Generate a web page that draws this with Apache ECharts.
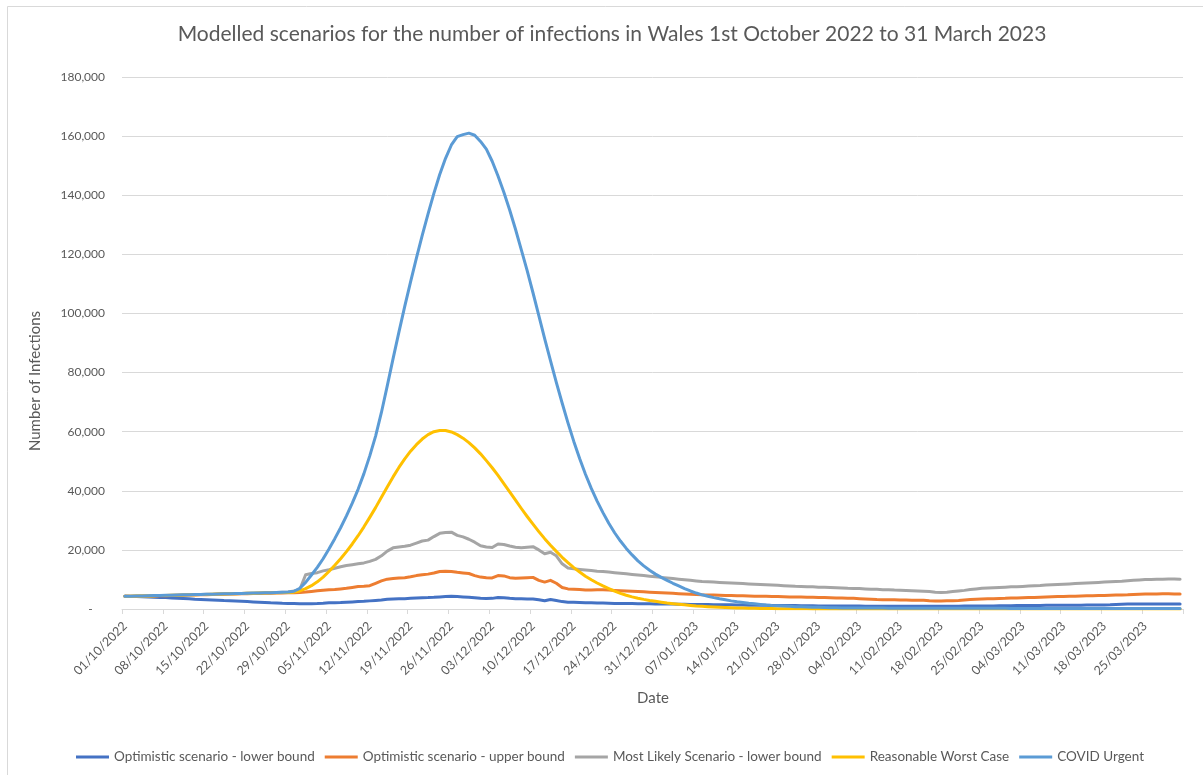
<!DOCTYPE html>
<html>
<head>
<meta charset="utf-8">
<title>Modelled scenarios for the number of infections in Wales</title>
<script src="https://cdn.jsdelivr.net/npm/echarts@6/dist/echarts.min.js"></script>
<style>
  html, body { margin: 0; padding: 0; background: #ffffff; }
  #chart { width: 1203px; height: 775px; }
</style>
</head>
<body>
<div id="chart"></div>
<script>
// Daily modelled infections, 01/10/2022 to 31/03/2023 (182 days)
const START_DATE = Date.UTC(2022, 9, 1);
const DAY_COUNT = 182;

const seriesNames = [
  'Optimistic scenario - lower bound',
  'Optimistic scenario - upper bound',
  'Most Likely Scenario - lower bound',
  'Reasonable Worst Case',
  'COVID Urgent'
];

const optimisticLower = [
  4300, 4250, 4200, 4150, 4050, 4000, 3900, 3850, 3750, 3650,
  3550, 3450, 3300, 3250, 3150, 3050, 2950, 2850, 2800, 2700,
  2600, 2500, 2400, 2300, 2200, 2100, 2050, 1950, 1900, 1850,
  1800, 1800, 1800, 1850, 1950, 2100, 2150, 2200, 2300, 2400,
  2500, 2600, 2750, 2900, 3050, 3300, 3400, 3450, 3500, 3600,
  3700, 3800, 3850, 3950, 4100, 4200, 4300, 4200, 4100, 4000,
  3800, 3600, 3550, 3600, 3900, 3800, 3600, 3500, 3450, 3400,
  3400, 3100, 2800, 3200, 2900, 2500, 2300, 2250, 2200, 2150,
  2100, 2000, 2000, 1950, 1900, 1900, 1850, 1850, 1800, 1800,
  1750, 1700, 1700, 1650, 1650, 1600, 1600, 1550, 1550, 1500,
  1500, 1450, 1450, 1400, 1400, 1350, 1350, 1300, 1300, 1250,
  1250, 1200, 1200, 1200, 1150, 1150, 1100, 1100, 1100, 1050,
  1050, 1050, 1000, 1000, 1000, 1000, 1000, 950, 950, 950,
  950, 950, 950, 900, 900, 900, 900, 900, 900, 900,
  900, 950, 950, 950, 1000, 1000, 1000, 1050, 1050, 1050,
  1100, 1100, 1100, 1150, 1150, 1200, 1200, 1200, 1250, 1250,
  1250, 1300, 1300, 1300, 1300, 1350, 1350, 1350, 1350, 1400,
  1500, 1600, 1650, 1650, 1650, 1650, 1650, 1650, 1650, 1650,
  1650, 1650
];

const optimisticUpper = [
  4300, 4310, 4340, 4370, 4400, 4440, 4480, 4520, 4560, 4600,
  4650, 4700, 4750, 4800, 4850, 4900, 4950, 5000, 5050, 5100,
  5140, 5180, 5220, 5260, 5300, 5340, 5380, 5420, 5460, 5500,
  5600, 5750, 5950, 6150, 6350, 6500, 6600, 6800, 7000, 7300,
  7600, 7700, 7900, 8700, 9500, 10100, 10300, 10500, 10600, 10900,
  11300, 11600, 11800, 12200, 12700, 12800, 12700, 12400, 12200, 12000,
  11300, 10800, 10600, 10500, 11300, 11200, 10600, 10400, 10500, 10600,
  10700, 9700, 9100, 9700, 8700, 7300, 6800, 6700, 6600, 6400,
  6400, 6500, 6500, 6400, 6300, 6200, 6100, 6000, 5900, 5800,
  5700, 5600, 5500, 5400, 5300, 5200, 5100, 5000, 4900, 4800,
  4750, 4700, 4650, 4600, 4550, 4500, 4450, 4400, 4350, 4300,
  4300, 4250, 4200, 4150, 4100, 4100, 4050, 4000, 3950, 3900,
  3850, 3800, 3750, 3700, 3650, 3600, 3500, 3400, 3300, 3200,
  3150, 3100, 3100, 3050, 3050, 3000, 3000, 2950, 2800, 2700,
  2700, 2750, 2800, 2900, 3050, 3200, 3300, 3400, 3450, 3500,
  3550, 3600, 3700, 3750, 3800, 3850, 3900, 4000, 4100, 4150,
  4200, 4250, 4300, 4350, 4400, 4450, 4500, 4550, 4600, 4650,
  4700, 4750, 4800, 4900, 5000, 5050, 5100, 5100, 5150, 5150,
  5100, 5100
];

const mostLikelyLower = [
  4300, 4330, 4380, 4420, 4460, 4510, 4560, 4610, 4660, 4710,
  4770, 4820, 4870, 4920, 4970, 5020, 5070, 5120, 5170, 5220,
  5270, 5320, 5370, 5420, 5470, 5530, 5600, 5680, 5780, 6100,
  6600, 11600, 12000, 12300, 12900, 13300, 13800, 14300, 14700, 15000,
  15300, 15600, 16100, 16800, 18000, 19600, 20700, 21000, 21200, 21600,
  22300, 23000, 23300, 24500, 25600, 25900, 26000, 24900, 24400, 23600,
  22600, 21400, 21000, 20800, 22000, 21800, 21300, 20900, 20700, 20900,
  21100, 20000, 18700, 19200, 18000, 15300, 13900, 13600, 13400, 13200,
  13000, 12800, 12700, 12500, 12300, 12100, 11900, 11700, 11500, 11300,
  11100, 10900, 10700, 10500, 10300, 10100, 9900, 9700, 9500, 9300,
  9200, 9100, 9000, 8900, 8800, 8700, 8600, 8500, 8400, 8300,
  8200, 8100, 8000, 7900, 7800, 7700, 7650, 7550, 7500, 7400,
  7350, 7300, 7200, 7100, 7000, 6950, 6900, 6800, 6700, 6650,
  6550, 6500, 6400, 6350, 6300, 6200, 6100, 6000, 5900, 5700,
  5600, 5700, 5900, 6100, 6300, 6600, 6800, 7000, 7100, 7200,
  7300, 7400, 7500, 7550, 7650, 7750, 7850, 7950, 8100, 8200,
  8300, 8400, 8500, 8600, 8700, 8800, 8900, 9000, 9100, 9200,
  9300, 9400, 9550, 9700, 9850, 9950, 10000, 10050, 10100, 10150,
  10150, 10100
];

const reasonableWorst = [
  4300, 4320, 4360, 4400, 4440, 4490, 4540, 4590, 4640, 4690,
  4740, 4790, 4840, 4890, 4940, 4990, 5040, 5090, 5140, 5190,
  5240, 5290, 5340, 5390, 5440, 5480, 5520, 5560, 5600, 5700,
  6100, 6900, 7900, 9200, 10800, 12700, 14800, 17000, 19400, 22000,
  24800, 27800, 31000, 34300, 37800, 41300, 44700, 47900, 50800, 53400,
  55600, 57500, 59000, 60000, 60400, 60400, 59900, 59000, 57800, 56300,
  54500, 52500, 50200, 47800, 45200, 42400, 39600, 36800, 34000, 31300,
  28700, 26200, 23800, 21600, 19500, 17500, 15700, 14000, 12500, 11100,
  9900, 8800, 7800, 6900, 6050, 5300, 4650, 4100, 3650, 3250,
  2900, 2600, 2300, 2000, 1800, 1600, 1400, 1200, 1000, 900,
  800, 700, 600, 520, 450, 380, 330, 280, 240, 200,
  170, 140, 120, 100, 80, 70, 60, 50, 40, 30,
  25, 20, 18, 15, 12, 10, 9, 8, 7, 6,
  5, 5, 5, 5, 4, 4, 4, 4, 4, 3,
  3, 3, 3, 3, 3, 3, 3, 2, 2, 2,
  2, 2, 2, 2, 2, 2, 2, 2, 2, 2,
  2, 2, 2, 2, 2, 2, 2, 2, 2, 2,
  2, 2, 2, 2, 2, 2, 2, 2, 2, 2,
  2, 2
];

const covidUrgent = [
  4300, 4340, 4390, 4420, 4470, 4530, 4570, 4620, 4680, 4720,
  4780, 4830, 4880, 4930, 4980, 5030, 5080, 5130, 5180, 5230,
  5280, 5330, 5380, 5430, 5480, 5530, 5590, 5660, 5750, 6000,
  7000, 9000, 11500, 14100, 17000, 20300, 23800, 27500, 31500, 35800,
  40500, 45800, 51800, 58500, 66500, 75500, 84700, 93700, 102400, 110700,
  118700, 126400, 133700, 140600, 147000, 152500, 157000, 159800, 160500, 161000,
  160300, 158200, 155600, 151500, 146500, 141000, 135000, 128500, 121500, 114500,
  107000, 99300, 91500, 84000, 76700, 69700, 63000, 56700, 50900, 45600,
  40800, 36500, 32600, 29000, 25800, 23000, 20500, 18300, 16300, 14600,
  13100, 11800, 10700, 9700, 8700, 7800, 6900, 6100, 5400, 4800,
  4300, 3850, 3450, 3100, 2750, 2450, 2200, 1950, 1750, 1550,
  1350, 1200, 1100, 1000, 900, 800, 720, 650, 600, 550,
  500, 450, 400, 380, 350, 340, 330, 320, 310, 300,
  300, 290, 290, 280, 280, 270, 270, 260, 260, 250,
  250, 250, 240, 240, 240, 230, 230, 230, 220, 220,
  220, 220, 210, 210, 210, 210, 200, 200, 200, 200,
  200, 190, 190, 190, 190, 180, 180, 180, 180, 180,
  170, 170, 170, 170, 170, 160, 160, 160, 160, 160,
  150, 150
];

const seriesColors = ['#4472C4', '#ED7D31', '#A5A5A5', '#FFC000', '#5B9BD5'];
const seriesValues = [optimisticLower, optimisticUpper, mostLikelyLower, reasonableWorst, covidUrgent];

// Y axis range and step
const Y_MIN = 0;
const Y_MAX = 180000;
const Y_STEP = 20000;

function pad2(n) { return n < 10 ? '0' + n : String(n); }
const dates = [];
for (let i = 0; i < DAY_COUNT; i++) {
  const d = new Date(START_DATE + i * 86400000);
  dates.push(pad2(d.getUTCDate()) + '/' + pad2(d.getUTCMonth() + 1) + '/' + d.getUTCFullYear());
}

const FONT = 'Lato, "Open Sans", sans-serif';
const TEXT = '#595959';
const GRID = '#D9D9D9';

const chart = echarts.init(document.getElementById('chart'), null, { renderer: 'canvas' });

chart.setOption({
  animation: false,
  backgroundColor: '#ffffff',
  title: {
    text: 'Modelled scenarios for the number of infections in Wales 1st October 2022 to 31 March 2023',
    left: 607,
    top: 19,
    textAlign: 'center',
    textStyle: { fontFamily: FONT, fontSize: 21, fontWeight: 'normal', color: TEXT }
  },
  grid: { left: 122, right: 20, top: 77, bottom: 166, containLabel: false },
  legend: {
    bottom: 6,
    left: 71,
    icon: 'rect',
    itemWidth: 33,
    itemHeight: 3,
    itemGap: 10,
    textStyle: { fontFamily: FONT, fontSize: 13.5, color: TEXT },
    data: seriesNames
  },
  xAxis: {
    type: 'category',
    data: dates,
    boundaryGap: true,
    axisLine: { lineStyle: { color: GRID, width: 1 } },
    axisTick: { show: true, interval: 6, length: 5, lineStyle: { color: GRID } },
    axisLabel: {
      interval: 6,
      rotate: 45,
      margin: 15,
      fontFamily: FONT,
      fontSize: 12.5,
      color: TEXT
    },
    splitLine: { show: false }
  },
  yAxis: {
    type: 'value',
    min: Y_MIN,
    max: Y_MAX,
    interval: Y_STEP,
    axisLine: { show: false },
    axisTick: { show: false },
    axisLabel: {
      margin: 17,
      fontFamily: FONT,
      fontSize: 12,
      color: TEXT,
      formatter: function (v) {
        return v === 0 ? '-    ' : v.toLocaleString('en-GB');
      }
    },
    splitLine: { lineStyle: { color: GRID, width: 1 } }
  },
  graphic: [
    {
      type: 'rect',
      silent: true,
      shape: { x: 7.5, y: 6.5, width: 1300, height: 900 },
      style: { fill: 'none', stroke: GRID, lineWidth: 1 }
    },
    {
      type: 'text',
      silent: true,
      x: 35,
      y: 381,
      rotation: Math.PI / 2,
      style: {
        text: 'Number of Infections',
        font: '15px ' + FONT,
        fill: TEXT,
        align: 'center',
        verticalAlign: 'middle'
      }
    },
    {
      type: 'text',
      silent: true,
      x: 653,
      y: 698,
      style: {
        text: 'Date',
        font: '15px ' + FONT,
        fill: TEXT,
        align: 'center',
        verticalAlign: 'middle'
      }
    }
  ],
  series: seriesNames.map(function (name, i) {
    return {
      name: name,
      type: 'line',
      data: seriesValues[i],
      showSymbol: false,
      symbol: 'none',
      smooth: false,
      color: seriesColors[i],
      lineStyle: { color: seriesColors[i], width: 3, cap: 'round', join: 'round' },
      emphasis: { disabled: true }
    };
  })
});
</script>
</body>
</html>
